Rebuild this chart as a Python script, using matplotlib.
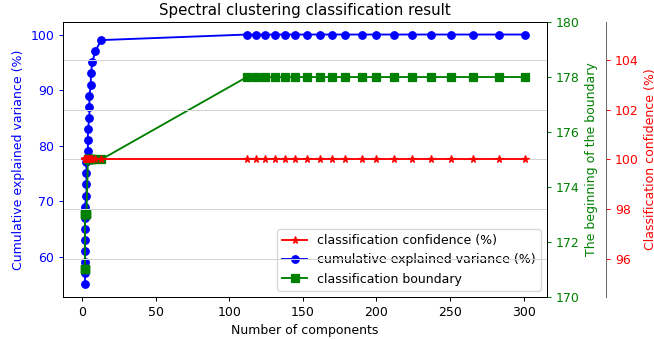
import matplotlib
matplotlib.use("Agg")
import matplotlib.pyplot as plt

# number of components (shared x for all three series)
n_components = [2, 2, 2, 2, 2, 2, 2, 2, 3, 3, 3, 3, 4, 4, 4, 5, 5, 5, 6, 6, 7, 9, 13,
                112, 118, 124, 131, 138, 145, 153, 162, 170, 179, 190, 200, 212,
                224, 237, 251, 266, 283, 301]

explained_variance = [55, 57, 59, 61, 63, 65, 67, 69, 71, 73, 75, 77, 79, 81, 83,
                      85, 87, 89, 91, 93, 95, 97, 99] + [100] * 19

boundary = [171, 171, 171, 171, 173, 173, 173, 173, 173, 173, 173, 173] + [175] * 11 + [178] * 19

confidence = [100] * 42

fig, ax = plt.subplots(figsize=(654 / 90, 339 / 90), dpi=90)
fig.subplots_adjust(left=0.0963, right=0.8364, top=0.935, bottom=0.124)

ax2 = ax.twinx()
ax3 = ax.twinx()
ax3.spines["right"].set_position(("axes", 1.122))
ax3.spines["right"].set_color("dimgray")

l1, = ax.plot(n_components, explained_variance, "o-", color="blue",
              label="cumulative explained variance (%)")
l2, = ax2.plot(n_components, boundary, "s-", color="green",
               label="classification boundary")
l3, = ax3.plot(n_components, confidence, "*-", color="red",
               label="classification confidence (%)")

ax2.set_ylim(170, 180)
ax2.set_yticks([170, 172, 174, 176, 178, 180])
ax3.set_yticks([96, 98, 100, 102, 104])
ax3.grid(True, color="lightgray")

ax.set_xlabel("Number of components")
ax.set_ylabel("Cumulative explained variance (%)", color="blue")
ax2.set_ylabel("The beginning of the boundary", color="green")
ax3.set_ylabel("Classification confidence (%)", color="red")
ax.tick_params(axis="y", colors="blue")
ax2.tick_params(axis="y", colors="green")
ax3.tick_params(axis="y", colors="red")

ax.set_title("Spectral clustering classification result")
ax.legend(handles=[l3, l1, l2], loc="lower right")

plt.savefig("out.png")
